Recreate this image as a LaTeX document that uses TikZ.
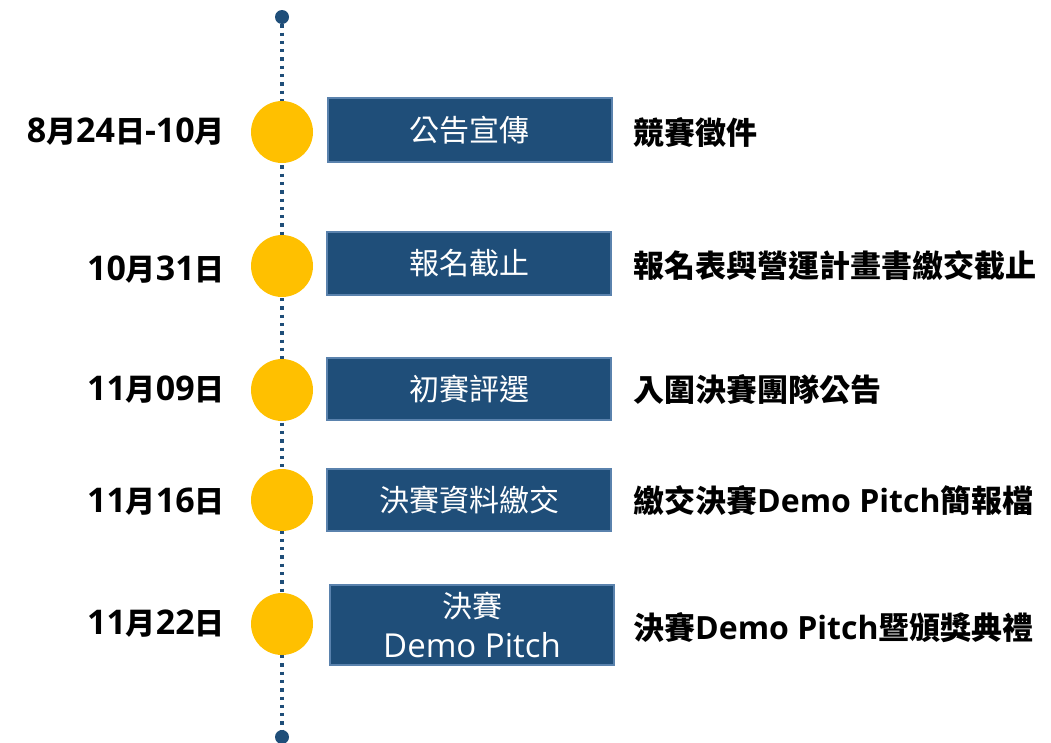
\documentclass[tikz,border=0pt]{standalone}
\usepackage{fontspec}
\setmainfont{Open Sans}
\newfontfamily\cjk{Noto Sans CJK TC}
\newcommand\lasz{30}
\newcommand\zhsz{30}
\newcommand\la[1]{{\fontsize{\lasz}{\lasz}\selectfont #1}}
\newcommand\zh[1]{{\cjk\fontsize{\zhsz}{\zhsz}\selectfont #1}}
\definecolor{navy}{HTML}{1F4E79}
\definecolor{navyedge}{HTML}{5A82AD}
\definecolor{gold}{HTML}{FFC000}
\tikzset{
  enddot/.style={circle, fill=navy, minimum size=14pt, inner sep=0pt},
  dotline/.style={navy, line width=3.3pt, dash pattern=on 3.3pt off 5pt},
  milestone/.style={circle, fill=gold, minimum size=62pt, inner sep=0pt},
  stagebox/.style={rectangle, fill=navy, draw=navyedge, line width=2pt, text=white,
    minimum width=284pt, inner sep=0pt, align=center,
    font=\renewcommand\lasz{33}\renewcommand\zhsz{30}\fontsize{30}{40}\selectfont},
  datelabel/.style={anchor=east, inner sep=0pt,
    font=\renewcommand\lasz{34}\renewcommand\zhsz{30}\bfseries},
  desclabel/.style={anchor=west, inner sep=0pt,
    font=\renewcommand\lasz{32}\renewcommand\zhsz{31}\bfseries},
}
\begin{document}
\begin{tikzpicture}[x=1pt, y=-1pt]
\useasboundingbox (0,0) rectangle (1051,742);
\node[enddot] (top) at (282,17) {};
\node[enddot] (bot) at (282,737) {};
\draw[dotline] (top) -- (bot);

\node[milestone] (c1) at (282,132) {};
\node[milestone] (c2) at (282,266) {};
\node[milestone] (c3) at (282,390) {};
\node[milestone] (c4) at (282,500) {};
\node[milestone] (c5) at (282,624) {};

\node[stagebox, minimum height=64pt] (b1) at (469.5,130) {\zh{公告宣傳}};
\node[stagebox, minimum height=63pt] (b2) at (469,263.5) {\zh{報名截止}};
\node[stagebox, minimum height=62pt] (b3) at (469,389) {\zh{初賽評選}};
\node[stagebox, minimum height=62pt] (b4) at (469,500) {\zh{決賽資料繳交}};
\node[stagebox, minimum height=80pt] (b5) at (472,625) {\zh{決賽}\\\la{Demo Pitch}};

\node[datelabel] (d1) at (225,132) {\la{8}\zh{月}\la{24}\zh{日}\la{-10}\zh{月}};
\node[datelabel] (d2) at (225,270) {\la{10}\zh{月}\la{31}\zh{日}};
\node[datelabel] (d3) at (225,390) {\la{11}\zh{月}\la{09}\zh{日}};
\node[datelabel] (d4) at (225,502) {\la{11}\zh{月}\la{16}\zh{日}};
\node[datelabel] (d5) at (225,624) {\la{11}\zh{月}\la{22}\zh{日}};

\node[desclabel] (t1) at (633,133) {\zh{競賽徵件}};
\node[desclabel] (t2) at (633,266) {\zh{報名表與營運計畫書繳交截止}};
\node[desclabel] (t3) at (633,390) {\zh{入圍決賽團隊公告}};
\node[desclabel] (t4) at (633,500) {\zh{繳交決賽}\la{Demo Pitch}\zh{簡報檔}};
\node[desclabel] (t5) at (633,628) {\zh{決賽}\la{Demo Pitch}\zh{暨頒獎典禮}};
\end{tikzpicture}
\end{document}
